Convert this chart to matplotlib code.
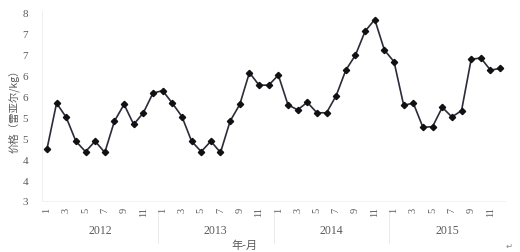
import matplotlib
matplotlib.use("Agg")
import matplotlib.pyplot as plt
import numpy as np

# monthly price, Jan 2012 .. Dec 2015
years = ["2012", "2013", "2014", "2015"]
price_2012 = [4.24, 5.34, 5.00, 4.43, 4.18, 4.43, 4.16, 4.91, 5.31, 4.83, 5.11, 5.58]
price_2013 = [5.64, 5.34, 5.02, 4.43, 4.18, 4.43, 4.16, 4.91, 5.31, 6.07, 5.77, 5.77]
price_2014 = [6.01, 5.30, 5.18, 5.36, 5.11, 5.11, 5.52, 6.13, 6.49, 7.06, 7.34, 6.61]
price_2015 = [6.33, 5.29, 5.34, 4.76, 4.78, 5.24, 5.01, 5.16, 6.39, 6.42, 6.13, 6.17]
month_labels = ["1", "3", "5", "7", "9", "11"]
ytick_vals = [3, 3.5, 4, 4.5, 5, 5.5, 6, 6.5, 7, 7.5]
ytick_labels = ["3", "4", "4", "5", "5", "6", "6", "7", "7", "8"]

prices = price_2012 + price_2013 + price_2014 + price_2015
x = np.arange(len(prices))

SERIF = ["Liberation Serif", "DejaVu Serif"]
CJK = ["Noto Sans CJK SC", "DejaVu Sans"]
GREY = "#5a5a5a"

fig = plt.figure(figsize=(5.20, 2.53), dpi=100)
ax = fig.add_axes([0.081, 0.2016, 0.890, 0.752])

ax.plot(x, prices, color="#2b2b3b", lw=1.2, marker="D", ms=3.2,
        mfc="#111111", mec="#111111", zorder=3)

ax.set_xlim(-0.5, len(prices) - 0.5)
ax.set_ylim(3, 7.55)

ax.set_yticks(ytick_vals)
ax.set_yticklabels(ytick_labels, family=SERIF, fontsize=8, color=GREY)
ax.tick_params(axis="y", length=0, pad=10)

pos = [i * 12 + j for i in range(len(years)) for j in range(0, 12, 2)]
ax.set_xticks(pos)
ax.set_xticklabels(month_labels * len(years), rotation=90, family=SERIF,
                   fontsize=7.5, color=GREY)
ax.tick_params(axis="x", length=0, pad=4)

for s in ["top", "right"]:
    ax.spines[s].set_visible(False)
ax.spines["left"].set_color("#ececec")
ax.spines["bottom"].set_color("#f0f0f0")
ax.spines["left"].set_linewidth(0.6)
ax.spines["bottom"].set_linewidth(0.6)

# year labels and separators under the month ticks
for i, yr in enumerate(years):
    ax.text(i * 12 + 5.5, -0.155, yr, transform=ax.get_xaxis_transform(),
            ha="center", va="center", family=SERIF, fontsize=8.5, color=GREY)
    if i > 0:
        ax.plot([i * 12 - 0.5] * 2, [-0.06, -0.22], transform=ax.get_xaxis_transform(),
                color="#e8e8e8", lw=0.6, clip_on=False)

fig.text(0.47, 0.03, "年-月", ha="center", va="center", family=CJK,
         fontsize=8, color=GREY)
fig.text(0.027, 0.57, "价格（雷亚尔/kg）", rotation=90, ha="center", va="center",
         family=CJK, fontsize=7.5, color=GREY)
fig.text(0.985, 0.01, "↵", ha="right", va="bottom", fontsize=6, color="#888888")

fig.savefig("out.png", dpi=100, facecolor="white")
